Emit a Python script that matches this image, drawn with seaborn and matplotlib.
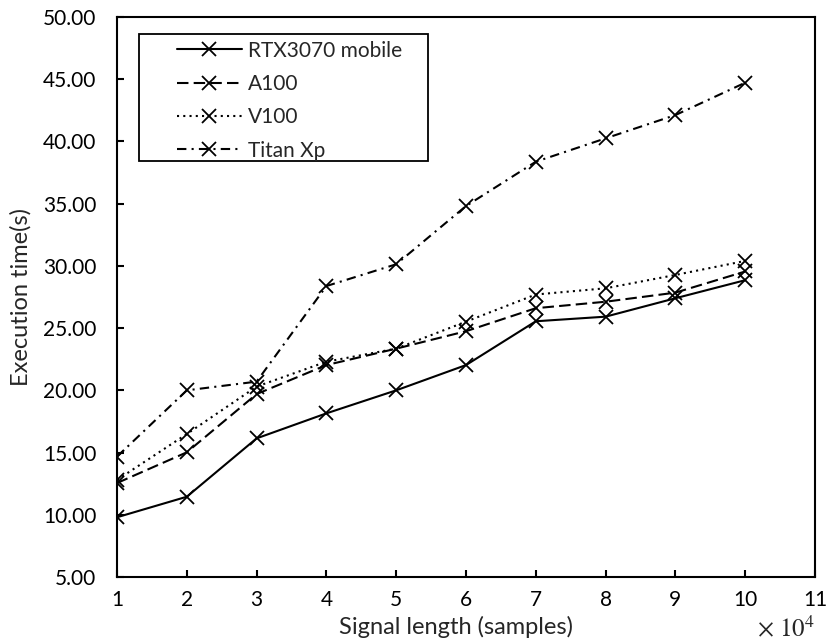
import matplotlib
matplotlib.use("Agg")
import matplotlib.pyplot as plt
from matplotlib.patches import Rectangle
from matplotlib.ticker import FormatStrFormatter
import pandas as pd
import seaborn as sns

# Signal length in units of 10^4 samples
signal_length = [1, 2, 3, 4, 5, 6, 7, 8, 9, 10]

# Execution time (s) per GPU
rtx3070_mobile = [9.80, 11.45, 16.14, 18.15, 20.00, 22.03, 25.55, 25.92, 27.40, 28.85]
a100 = [12.55, 15.02, 19.70, 22.03, 23.35, 24.75, 26.60, 27.12, 27.85, 29.55]
v100 = [12.80, 16.49, 20.30, 22.30, 23.35, 25.52, 27.70, 28.20, 29.27, 30.40]
titan_xp = [14.67, 20.00, 20.70, 28.38, 30.13, 34.81, 38.37, 40.25, 42.12, 44.72]

series_names = ["RTX3070 mobile", "A100", "V100", "Titan Xp"]
x_ticks = [1, 2, 3, 4, 5, 6, 7, 8, 9, 10, 11]
y_ticks = [5, 10, 15, 20, 25, 30, 35, 40, 45, 50]

frames = []
for name, values in zip(series_names, [rtx3070_mobile, a100, v100, titan_xp]):
    frames.append(pd.DataFrame({"length": signal_length, "time": values, "gpu": name}))
df = pd.concat(frames, ignore_index=True)

line_styles = {
    "RTX3070 mobile": "-",
    "A100": (0, (5.5, 2.5)),
    "V100": (0, (1, 2)),
    "Titan Xp": (0, (4.5, 2.5, 1, 2.5)),
}

sns.set_style("ticks")
plt.rcParams["font.family"] = ["Lato", "DejaVu Sans"]
plt.rcParams["mathtext.fontset"] = "stix"

fig = plt.figure(figsize=(8.28, 6.43), dpi=100)
ax = fig.add_axes([117 / 828, 1 - 577 / 643, 698 / 828, 560 / 643])

for name in series_names:
    sub = df[df["gpu"] == name]
    sns.lineplot(
        data=sub, x="length", y="time", ax=ax,
        color="black", linestyle=line_styles[name], linewidth=1.5,
        marker="x", markersize=9.5, markeredgewidth=1.3,
        markeredgecolor="black", errorbar=None, label=name,
    )

ax.set_xlim(1, 11)
ax.set_ylim(5, 50)
ax.set_xticks(x_ticks)
ax.set_yticks(y_ticks)
ax.yaxis.set_major_formatter(FormatStrFormatter("%.2f"))

for side in ["left", "bottom", "top", "right"]:
    ax.spines[side].set_visible(True)
    ax.spines[side].set_linewidth(1.5)
    ax.spines[side].set_color("black")

ax.tick_params(axis="both", direction="in", length=5, width=1.5,
               labelsize=15, colors="black")
ax.tick_params(axis="y", pad=15)
ax.tick_params(axis="x", pad=9)

ax.set_xlabel("Signal length (samples)", fontsize=17)
ax.set_ylabel("Execution time(s)", fontsize=17)
ax.xaxis.set_label_coords(0.486, -0.070)
ax.yaxis.set_label_coords(-0.123, 0.5)

fig.text(815 / 828, 1 - 636 / 643, r"$\times\ 10^{4}$", ha="right",
         va="baseline", fontsize=18)

# Legend box and entries
ax.add_patch(Rectangle((0.0315, 0.7429), 0.4141, 0.2267, transform=ax.transAxes,
                       facecolor="white", edgecolor="black", linewidth=1.3,
                       zorder=4))
leg = ax.legend(handles=ax.get_lines()[:4], labels=series_names,
                loc="upper left", bbox_to_anchor=(0.086, 0.958),
                frameon=False, borderpad=0, borderaxespad=0,
                handlelength=3.1, handletextpad=0.3, labelspacing=0.64,
                fontsize=15)
leg.set_zorder(5)

fig.savefig("out.png", dpi=100)
